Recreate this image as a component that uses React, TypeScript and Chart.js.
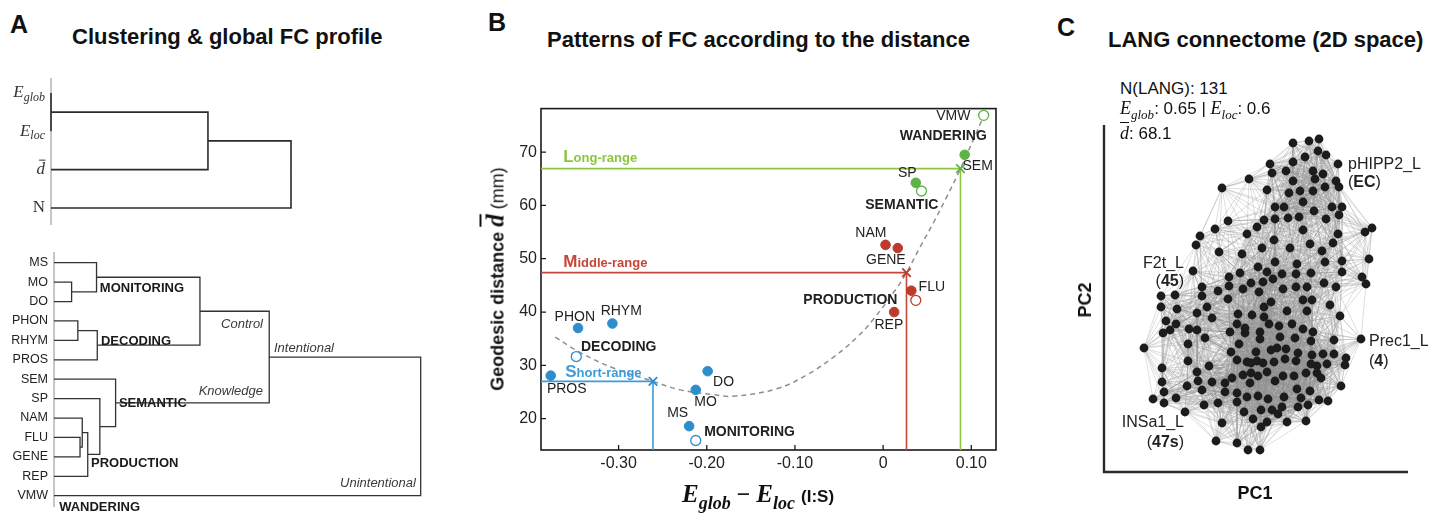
import React, { useEffect, useRef } from "react";
import { Chart, registerables } from "chart.js";
Chart.register(...registerables);

const SANS = 'Arial, "Liberation Sans", Helvetica, sans-serif';
const SERIF = '"Liberation Serif", "DejaVu Serif", serif';

// ---------------- Panel A : global FC profile dendrogram ----------------
const topLeafNames = ["Eglob", "Eloc", "dbar", "N"];
const topLinkY1 = [0, 0.5, 1.25];
const topLinkH1 = [0, 0, 0.654];
const topLinkY2 = [1, 2, 3];
const topLinkH2 = [0, 0, 0];
const topLinkH = [0, 0.654, 1.0];

// ---------------- Panel A : task dendrogram ----------------
const taskNames = ["MS", "MO", "DO", "PHON", "RHYM", "PROS", "SEM", "SP", "NAM", "FLU", "GENE", "REP", "VMW"];
const botLinkY1 = [1, 0, 3, 3.5, 0.75, 9, 8, 8.75, 7, 6, 2.5, 4.859];
const botLinkH1 = [0, 0, 0, 0.065, 0.116, 0, 0, 0.077, 0, 0, 0.398, 0.587];
const botLinkY2 = [2, 1.5, 4, 5, 4.25, 10, 9.5, 11, 9.875, 8.4375, 7.219, 12];
const botLinkH2 = [0, 0.048, 0, 0, 0.118, 0, 0.071, 0, 0.092, 0.125, 0.168, 0];
const botLinkH = [0.048, 0.116, 0.065, 0.118, 0.398, 0.071, 0.077, 0.092, 0.125, 0.168, 0.587, 1.0];
const clusterNames = ["MONITORING", "DECODING", "SEMANTIC", "PRODUCTION", "WANDERING"];
const clusterLabelH = [0.125, 0.128, 0.177, 0.101, 0.014];
const clusterLabelY = [1.35, 4.03, 7.23, 10.32, 12.58];
const branchNames = ["Control", "Intentional", "Knowledge", "Unintentional"];
const branchLabelH = [0.57, 0.6, 0.57, 0.987];
const branchLabelY = [3.16, 4.39, 6.64, 11.35];
const branchAlign = ["right", "left", "right", "right"];

// ---------------- Panel B : FC patterns vs distance ----------------
const taskX = [-0.346, -0.307, -0.377, -0.199, -0.2125, -0.22, 0.0027, 0.0166, 0.032, 0.0125, 0.037, 0.0925];
const taskY = [37.0, 37.85, 28.07, 28.9, 25.4, 18.6, 52.6, 52.0, 44.0, 40.0, 64.25, 69.5];
const taskLabels = ["PHON", "RHYM", "PROS", "DO", "MO", "MS", "NAM", "GENE", "FLU", "REP", "SP", "SEM"];
const taskRange = [0, 0, 0, 0, 0, 0, 1, 1, 1, 1, 2, 2];
const centroidNames = ["DECODING", "MONITORING", "PRODUCTION", "SEMANTIC", "WANDERING"];
const centroidX = [-0.348, -0.2125, 0.037, 0.0435, 0.114];
const centroidY = [31.65, 15.9, 42.2, 62.7, 76.9];
const centroidRange = [0, 0, 1, 2, 2];
const rangeNames = ["Short-range", "Middle-range", "Long-range"];
const rangeX = [-0.261, 0.0265, 0.0877];
const rangeY = [27.0, 47.4, 66.9];
const fitX = [-0.372, -0.3435, -0.306, -0.261, -0.23, -0.1925, -0.17, -0.1207, -0.0867, -0.0566, -0.0301, -0.0113, 0.0152, 0.0265, 0.0416, 0.0566, 0.0718, 0.0877, 0.102, 0.1152];
const fitY = [35.3, 32.4, 29.5, 27.0, 25.4, 24.5, 24.2, 25.6, 28.2, 31.5, 35.2, 38.6, 44.45, 47.4, 52.1, 56.6, 61.5, 66.9, 72.2, 77.2];
const xTickValues = [-0.3, -0.2, -0.1, 0, 0.1];
const xTickLabels = ["-0.30", "-0.20", "-0.10", "0", "0.10"];
const yTickValues = [20, 30, 40, 50, 60, 70];
const yTickLabels = ["20", "30", "40", "50", "60", "70"];
const B_XMIN = -0.388, B_XMAX = 0.128, B_YMIN = 14.12, B_YMAX = 78.16;

// ---------------- Panel C : LANG connectome nodes (PC scores, arbitrary units) ----------------
const pc1 = [
  43, 59, 69, 68, 55, 76, 20, 43, 88, 22,
  36, 63, -1, 43, 65, 73, 86, -28, 17, 39,
  50, 63, 75, 89, 53, 25, 34, 64, 82, 92,
  89, 76, 49, 38, 25, 14, 7, -22, -35, 53,
  -3, 115, 122, -50, 24, 88, -54, 60, 83, 12,
  40, 72, -31, -8, 25, 75, 47, 8, 92, 119,
  -57, -10, -21, 17, 32, 46, 61, 92, 112, 116,
  1, 13, 23, -21, -48, -32, -7, 33, 46, 57,
  74, 86, -89, -75, -48, -22, 9, -89, -73, -53,
  -43, -38, -12, 2, 14, 14, 21, 37, 53, 62,
  57, 80, 90, -84, -74, -87, -80, -61, -53, -45,
  -20, -13, -5, -5, 10, 19, 29, 30, 42, 53,
  45, 63, 61, 10, -11, -62, -106, 84, 111, -19,
  6, 21, 27, 36, 48, 62, 73, 84, 96, -62,
  -13, -3, 1, 7, 13, 24, 35, 46, 61, 67,
  77, 95, -41, -88, -53, -7, 1, 8, 17, 33,
  44, 56, 67, 71, -18, -38, -52, -25, -88, 91,
  -63, 0, 25, 47, 60, -86, -48, -25, -13, -3,
  8, 34, 51, 69, 78, -97, -86, -74, -46, -32,
  -13, 18, 32, 48, 58, -65, -6, 11, 22, 28,
  3, 37, 56, -28, 11, 17, -34, -13, -2, 10,
];
const pc2 = [
  157, 159, 161, 149, 143, 145, 136, 138, 136, 127,
  129, 129, 121, 119, 121, 126, 119, 112, 110, 107,
  109, 109, 113, 113, 98, 93, 93, 89, 93, 93,
  85, 81, 83, 82, 81, 80, 73, 79, 71, 70,
  66, 68, 72, 64, 60, 66, 55, 56, 57, 52,
  52, 49, 48, 46, 38, 38, 36, 33, 39, 41,
  29, 27, 23, 28, 26, 26, 27, 28, 23, 16,
  17, 18, 21, 14, 13, 9, 11, 11, 13, 13,
  17, 13, 4, 5, 4, 1, 8, -7, -9, -13,
  -7, -18, -14, -15, -17, -7, -2, -11, 0, 0,
  -11, -5, -16, -21, -24, -33, -30, -29, -30, -38,
  -32, -24, -28, -33, -32, -24, -26, -37, -24, -29,
  -38, -32, -41, -39, -44, -44, -48, -40, -39, -52,
  -52, -50, -48, -49, -53, -55, -54, -54, -58, -61,
  -60, -62, -63, -61, -63, -62, -59, -61, -64, -66,
  -64, -65, -66, -68, -72, -75, -73, -76, -72, -76,
  -76, -73, -73, -78, -78, -82, -81, -83, -82, -86,
  -86, -83, -81, -89, -91, -92, -90, -92, -93, -97,
  -96, -97, -98, -100, -101, -99, -103, -98, -105, -103,
  -102, -99, -107, -107, -105, -112, -112, -110, -110, -114,
  -119, -122, -121, -123, -127, -122, -141, -143, -150, -150,
];
const C_XMIN = -146, C_XMAX = 158, C_YMIN = -172, C_YMAX = 175;

// ---------------- colours ----------------
const markerColors = ["#2f8dcb", "#bd3a2c", "#5fb344"];
const lineColors = ["#3d9bd8", "#c4473a", "#8cc641"];

// ---------------- helpers ----------------
type Run = { t: string; font: string; color?: string; dy?: number; bar?: boolean };
type TextItem = { x: number; y: number; runs: Run[]; align?: string; dx?: number; dy?: number; color?: string };

function textPlugin(items: TextItem[]) {
  return {
    id: "richText",
    afterDatasetsDraw(chart: any) {
      const ctx = chart.ctx;
      const xs = chart.scales.x;
      const ys = chart.scales.y;
      ctx.save();
      ctx.textBaseline = "middle";
      ctx.textAlign = "left";
      for (const it of items) {
        const px = xs.getPixelForValue(it.x) + (it.dx || 0);
        const py = ys.getPixelForValue(it.y) + (it.dy || 0);
        const widths = it.runs.map((r) => {
          ctx.font = r.font;
          return ctx.measureText(r.t).width;
        });
        const total = widths.reduce((a, b) => a + b, 0);
        let x0 = it.align === "right" ? px - total : it.align === "center" ? px - total / 2 : px;
        it.runs.forEach((r, i) => {
          ctx.font = r.font;
          ctx.fillStyle = r.color || it.color || "#222";
          const yy = py + (r.dy || 0);
          ctx.fillText(r.t, x0, yy);
          if (r.bar) {
            const m = ctx.measureText(r.t);
            const top = yy - (m.actualBoundingBoxAscent || 8) - 2;
            ctx.strokeStyle = ctx.fillStyle;
            ctx.lineWidth = 1;
            ctx.beginPath();
            ctx.moveTo(x0 + widths[i] * 0.3, top);
            ctx.lineTo(x0 + widths[i] * 1.05, top);
            ctx.stroke();
          }
          x0 += widths[i];
        });
      }
      ctx.restore();
    },
  };
}

function axisLinePlugin(color: string, width: number) {
  return {
    id: "axisLine",
    beforeDatasetsDraw(chart: any) {
      const { ctx, chartArea: a } = chart;
      ctx.save();
      ctx.strokeStyle = color;
      ctx.lineWidth = width;
      ctx.beginPath();
      ctx.moveTo(a.left, a.top);
      ctx.lineTo(a.left, a.bottom);
      ctx.stroke();
      ctx.restore();
    },
  };
}

function linkPoints(y1: number[], h1: number[], y2: number[], h2: number[], h: number[]) {
  const pts: any[] = [];
  for (let i = 0; i < h.length; i++) {
    pts.push({ x: h1[i], y: y1[i] }, { x: h[i], y: y1[i] }, { x: h[i], y: y2[i] }, { x: h2[i], y: y2[i] }, { x: h2[i], y: null });
  }
  return pts;
}

function buildEdges(xs: number[], ys: number[], k: number, r: number) {
  const n = xs.length;
  const seen = new Set<number>();
  const pts: any[] = [];
  for (let i = 0; i < n; i++) {
    const d: [number, number][] = [];
    for (let j = 0; j < n; j++) if (j !== i) d.push([Math.hypot(xs[i] - xs[j], ys[i] - ys[j]), j]);
    d.sort((a, b) => a[0] - b[0]);
    d.forEach(([dist, j], rank) => {
      if (rank < k || dist < r) {
        const key = Math.min(i, j) * 1000 + Math.max(i, j);
        if (!seen.has(key)) {
          seen.add(key);
          pts.push({ x: xs[i], y: ys[i] }, { x: xs[j], y: ys[j] }, { x: xs[j], y: null });
        }
      }
    });
  }
  return pts;
}

function baseOptions(pad: any) {
  return {
    animation: false,
    responsive: false,
    maintainAspectRatio: false,
    devicePixelRatio: 1,
    events: [],
    layout: { padding: pad },
    plugins: { legend: { display: false }, tooltip: { enabled: false }, colors: { enabled: false } },
  };
}

function mathRuns(name: string, size: number): Run[] {
  const main = `italic ${size}px ${SERIF}`;
  const sub = `italic ${Math.round(size * 0.72)}px ${SERIF}`;
  if (name === "Eglob") return [{ t: "E", font: main }, { t: "glob", font: sub, dy: size * 0.28 }];
  if (name === "Eloc") return [{ t: "E", font: main }, { t: "loc", font: sub, dy: size * 0.28 }];
  if (name === "dbar") return [{ t: "d", font: main, bar: true }];
  return [{ t: name, font: `${size}px ${SERIF}` }];
}

// ---------------- chart factories ----------------
function makeTop() {
  const items: TextItem[] = topLeafNames.map((n, i) => ({ x: 0, y: i, dx: -6, align: "right", runs: mathRuns(n, 17), color: "#333" }));
  return {
    type: "line",
    data: {
      datasets: [
        { data: linkPoints(topLinkY1, topLinkH1, topLinkY2, topLinkH2, topLinkH), borderColor: "#2b2b2b", backgroundColor: "#2b2b2b", borderWidth: 1.6, pointRadius: 0, tension: 0, clip: false },
      ],
    },
    options: {
      ...baseOptions({ left: 51, right: 9, top: 8, bottom: 10 }),
      scales: {
        x: { type: "linear", display: false, min: 0, max: 1.1667 },
        y: { type: "linear", display: false, min: -0.391, max: 3.443, reverse: true },
      },
    },
    plugins: [axisLinePlugin("#b5b5b5", 1.5), textPlugin(items)],
  };
}

function makeBottom() {
  const items: TextItem[] = [];
  taskNames.forEach((n, i) => items.push({ x: 0, y: i, dx: -6, align: "right", runs: [{ t: n, font: `12.5px ${SANS}` }], color: "#222" }));
  clusterNames.forEach((n, i) => items.push({ x: clusterLabelH[i], y: clusterLabelY[i], align: "left", runs: [{ t: n, font: `bold 13px ${SANS}` }], color: "#1a1a1a" }));
  branchNames.forEach((n, i) => items.push({ x: branchLabelH[i], y: branchLabelY[i], align: branchAlign[i], runs: [{ t: n, font: `italic 13px ${SANS}` }], color: "#3a3a3a" }));
  return {
    type: "line",
    data: {
      datasets: [
        { data: linkPoints(botLinkY1, botLinkH1, botLinkY2, botLinkH2, botLinkH), borderColor: "#333", backgroundColor: "#333", borderWidth: 1.3, pointRadius: 0, tension: 0, clip: false },
      ],
    },
    options: {
      ...baseOptions({ left: 54, right: 10, top: 7, bottom: 6 }),
      scales: {
        x: { type: "linear", display: false, min: 0, max: 1.0254 },
        y: { type: "linear", display: false, min: -0.551, max: 12.582, reverse: true },
      },
    },
    plugins: [axisLinePlugin("#b5b5b5", 1.5), textPlugin(items)],
  };
}

function frameBPlugin() {
  return {
    id: "frameB",
    beforeDatasetsDraw(chart: any) {
      const { ctx, chartArea: a, scales } = chart;
      ctx.save();
      ctx.strokeStyle = "#1a1a1a";
      ctx.lineWidth = 1.6;
      ctx.strokeRect(a.left, a.top, a.right - a.left, a.bottom - a.top);
      ctx.lineWidth = 1.3;
      ctx.beginPath();
      for (const t of scales.x.ticks) {
        const px = scales.x.getPixelForValue(t.value);
        ctx.moveTo(px, a.bottom);
        ctx.lineTo(px, a.bottom - 5);
      }
      for (const t of scales.y.ticks) {
        const py = scales.y.getPixelForValue(t.value);
        ctx.moveTo(a.left, py);
        ctx.lineTo(a.left + 5, py);
      }
      ctx.stroke();
      ctx.restore();
    },
  };
}

function makeB() {
  const f = `14px ${SANS}`;
  const fb = `bold 14px ${SANS}`;
  const items: TextItem[] = [
    { x: -0.3497, y: 39.0, align: "center", runs: [{ t: "PHON", font: f }] },
    { x: -0.297, y: 40.1, align: "center", runs: [{ t: "RHYM", font: f }] },
    { x: -0.2999, y: 33.5, align: "center", runs: [{ t: "DECODING", font: fb }] },
    { x: -0.3588, y: 25.5, align: "center", runs: [{ t: "PROS", font: f }] },
    { x: -0.181, y: 26.8, align: "center", runs: [{ t: "DO", font: f }] },
    { x: -0.2014, y: 23.1, align: "center", runs: [{ t: "MO", font: f }] },
    { x: -0.233, y: 21.0, align: "center", runs: [{ t: "MS", font: f }] },
    { x: -0.1515, y: 17.55, align: "center", runs: [{ t: "MONITORING", font: fb }] },
    { x: 0.0795, y: 76.7, align: "center", runs: [{ t: "VMW", font: f }] },
    { x: 0.0682, y: 73.0, align: "center", runs: [{ t: "WANDERING", font: fb }] },
    { x: 0.1072, y: 67.4, align: "center", runs: [{ t: "SEM", font: f }] },
    { x: 0.0274, y: 66.1, align: "center", runs: [{ t: "SP", font: f }] },
    { x: 0.0212, y: 60.0, align: "center", runs: [{ t: "SEMANTIC", font: fb }] },
    { x: -0.0139, y: 54.8, align: "center", runs: [{ t: "NAM", font: f }] },
    { x: 0.0031, y: 49.8, align: "center", runs: [{ t: "GENE", font: f }] },
    { x: 0.0552, y: 44.6, align: "center", runs: [{ t: "FLU", font: f }] },
    { x: -0.0371, y: 42.3, align: "center", runs: [{ t: "PRODUCTION", font: fb }] },
    { x: 0.0065, y: 37.5, align: "center", runs: [{ t: "REP", font: f }] },
  ];
  const rangeLabelY = [28.7, 49.4, 69.1];
  const rangeLabelX = [-0.3605, -0.3628, -0.3628];
  rangeNames.forEach((n, i) => {
    items.push({
      x: rangeLabelX[i],
      y: rangeLabelY[i],
      align: "left",
      color: lineColors[i],
      runs: [
        { t: n.charAt(0), font: `bold 17px ${SANS}` },
        { t: n.slice(1), font: `bold 13px ${SANS}`, dy: 1.3 },
      ],
    });
  });

  const rangeLines = rangeX.map((rx, i) => ({
    data: [
      { x: B_XMIN, y: rangeY[i] },
      { x: rx, y: rangeY[i] },
      { x: rx, y: B_YMIN },
    ],
    borderColor: lineColors[i],
    backgroundColor: lineColors[i],
    borderWidth: 1.6,
    pointRadius: 0,
    tension: 0,
  }));

  return {
    type: "line",
    data: {
      datasets: [
        {
          data: rangeX.map((x, i) => ({ x, y: rangeY[i] })),
          showLine: false,
          pointStyle: "crossRot",
          pointRadius: 6,
          pointBorderWidth: 1.8,
          pointBorderColor: markerColors,
          pointBackgroundColor: markerColors,
          borderColor: "#000",
          backgroundColor: "#000",
        },
        {
          data: taskX.map((x, i) => ({ x, y: taskY[i] })),
          showLine: false,
          pointRadius: 4.8,
          pointBorderWidth: 1,
          pointBackgroundColor: taskRange.map((g) => markerColors[g]),
          pointBorderColor: taskRange.map((g) => markerColors[g]),
          borderColor: "#000",
          backgroundColor: "#000",
        },
        {
          data: centroidX.map((x, i) => ({ x, y: centroidY[i] })),
          showLine: false,
          pointRadius: 5,
          pointBorderWidth: 1.3,
          pointBackgroundColor: "#ffffff",
          pointBorderColor: centroidRange.map((g) => markerColors[g]),
          borderColor: "#000",
          backgroundColor: "#000",
        },
        {
          data: fitX.map((x, i) => ({ x, y: fitY[i] })),
          borderColor: "#8f8f8f",
          backgroundColor: "#8f8f8f",
          borderDash: [5, 4],
          borderWidth: 1.5,
          pointRadius: 0,
          tension: 0.4,
        },
        ...rangeLines,
      ],
    },
    options: {
      ...baseOptions({ left: 0, right: 14, top: 10, bottom: 0 }),
      scales: {
        x: {
          type: "linear",
          min: B_XMIN,
          max: B_XMAX,
          afterFit: (s: any) => {
            s.height = 63;
          },
          afterBuildTicks: (s: any) => {
            s.ticks = xTickValues.map((v) => ({ value: v }));
          },
          grid: { display: false, drawTicks: false },
          border: { display: false },
          ticks: { padding: 4, autoSkip: false, maxRotation: 0, color: "#222", font: { size: 16, family: SANS }, callback: (_v: any, i: number) => xTickLabels[i] },
        },
        y: {
          type: "linear",
          min: B_YMIN,
          max: B_YMAX,
          afterFit: (s: any) => {
            s.width = 61;
          },
          afterBuildTicks: (s: any) => {
            s.ticks = yTickValues.map((v) => ({ value: v }));
          },
          grid: { display: false, drawTicks: false },
          border: { display: false },
          ticks: { padding: 4, autoSkip: false, color: "#222", font: { size: 16, family: SANS }, callback: (_v: any, i: number) => yTickLabels[i] },
        },
      },
    },
    plugins: [frameBPlugin(), textPlugin(items)],
  };
}

function axesCPlugin() {
  return {
    id: "axesC",
    afterDatasetsDraw(chart: any) {
      const { ctx, chartArea: a } = chart;
      ctx.save();
      ctx.strokeStyle = "#2a2a2a";
      ctx.lineWidth = 2.4;
      ctx.beginPath();
      ctx.moveTo(a.left, a.top);
      ctx.lineTo(a.left, a.bottom);
      ctx.lineTo(a.right, a.bottom);
      ctx.stroke();
      ctx.restore();
    },
  };
}

function makeC() {
  const f = `16px ${SANS}`;
  const fb = `bold 16px ${SANS}`;
  const items: TextItem[] = [
    { x: 98, y: 135, align: "left", runs: [{ t: "pHIPP2_L", font: f }] },
    { x: 98, y: 117, align: "left", runs: [{ t: "(", font: f }, { t: "EC", font: fb }, { t: ")", font: f }] },
    { x: -66, y: 36, align: "right", runs: [{ t: "F2t_L", font: f }] },
    { x: -66, y: 18, align: "right", runs: [{ t: "(", font: f }, { t: "45", font: fb }, { t: ")", font: f }] },
    { x: 119, y: -42, align: "left", runs: [{ t: "Prec1_L", font: f }] },
    { x: 119, y: -62, align: "left", runs: [{ t: "(", font: f }, { t: "4", font: fb }, { t: ")", font: f }] },
    { x: -66, y: -123, align: "right", runs: [{ t: "INSa1_L", font: f }] },
    { x: -66, y: -143, align: "right", runs: [{ t: "(", font: f }, { t: "47s", font: fb }, { t: ")", font: f }] },
  ];
  return {
    type: "line",
    data: {
      datasets: [
        {
          data: pc1.map((x, i) => ({ x, y: pc2[i] })),
          showLine: false,
          pointRadius: 4.4,
          pointBorderWidth: 0,
          pointBackgroundColor: "#1c1c1c",
          borderColor: "#1c1c1c",
          backgroundColor: "#1c1c1c",
        },
        {
          data: buildEdges(pc1, pc2, 16, 62),
          borderColor: "rgba(140,140,140,0.42)",
          backgroundColor: "rgba(140,140,140,0.42)",
          borderWidth: 0.7,
          pointRadius: 0,
          tension: 0,
        },
      ],
    },
    options: {
      ...baseOptions({ left: 14, right: 44, top: 10, bottom: 23 }),
      scales: {
        x: { type: "linear", display: false, min: C_XMIN, max: C_XMAX },
        y: { type: "linear", display: false, min: C_YMIN, max: C_YMAX },
      },
    },
    plugins: [axesCPlugin(), textPlugin(items)],
  };
}

// ---------------- React ----------------
function ChartBox({ left, top, width, height, make }: { left: number; top: number; width: number; height: number; make: () => any }) {
  const ref = useRef<HTMLCanvasElement>(null);
  useEffect(() => {
    const chart = new Chart(ref.current as HTMLCanvasElement, make());
    return () => chart.destroy();
  }, []);
  return (
    <div style={{ position: "absolute", left, top, width, height }}>
      <canvas ref={ref} width={width} height={height} style={{ width, height, display: "block" }} />
    </div>
  );
}

const abs = (left: number, top: number, extra: any = {}) => ({ position: "absolute" as const, left, top, whiteSpace: "nowrap" as const, lineHeight: 1, ...extra });

function MathE({ sub, size, bold }: { sub: string; size: number; bold?: boolean }) {
  return (
    <span style={{ fontFamily: SERIF, fontStyle: "italic", fontWeight: bold ? "bold" : "normal", fontSize: size }}>
      E<span style={{ fontSize: Math.round(size * 0.72), position: "relative", top: size * 0.28 }}>{sub}</span>
    </span>
  );
}

export default function App() {
  return (
    <div style={{ position: "fixed", left: 0, top: 0, width: 1452, height: 513, background: "#fff", fontFamily: SANS, color: "#111", overflow: "hidden" }}>
      <ChartBox left={0} top={70} width={340} height={165} make={makeTop} />
      <ChartBox left={0} top={245} width={440} height={268} make={makeBottom} />
      <ChartBox left={480} top={95} width={530} height={418} make={makeB} />
      <ChartBox left={1090} top={115} width={362} height={380} make={makeC} />

      <div style={abs(10, 12, { fontSize: 25, fontWeight: "bold" })}>A</div>
      <div style={abs(72, 25.5, { fontSize: 22, fontWeight: "bold" })}>Clustering &amp; global FC profile</div>
      <div style={abs(488, 10, { fontSize: 25, fontWeight: "bold" })}>B</div>
      <div style={abs(547, 28.5, { fontSize: 22, fontWeight: "bold" })}>Patterns of FC according to the distance</div>
      <div style={abs(1057, 15, { fontSize: 25, fontWeight: "bold" })}>C</div>
      <div style={abs(1108, 28.5, { fontSize: 22, fontWeight: "bold" })}>LANG connectome (2D space)</div>

      {/* Panel B axis titles */}
      <div style={abs(758, 493, { transform: "translate(-50%,-50%)", fontWeight: "bold" })}>
        <MathE sub="glob" size={25} bold />
        <span style={{ fontFamily: SERIF, fontSize: 24, fontWeight: "bold", margin: "0 6px" }}>−</span>
        <MathE sub="loc" size={25} bold />
        <span style={{ fontSize: 17, marginLeft: 6 }}>(I:S)</span>
      </div>
      <div style={abs(495, 279, { transform: "translate(-50%,-50%) rotate(-90deg)", fontSize: 18, fontWeight: "bold" })}>
        Geodesic distance{" "}
        <span style={{ fontFamily: SERIF, fontStyle: "italic", fontSize: 25, textDecoration: "overline" }}>d</span>{" "}
        <span style={{ fontWeight: "normal" }}>(mm)</span>
      </div>

      {/* Panel C header & axis titles */}
      <div style={abs(1120, 79.5, { fontSize: 17 })}>N(LANG): 131</div>
      <div style={abs(1120, 99, { fontSize: 17 })}>
        <MathE sub="glob" size={18} />: 0.65 | <MathE sub="loc" size={18} />: 0.6
      </div>
      <div style={abs(1120, 124, { fontSize: 17 })}>
        <span style={{ fontFamily: SERIF, fontStyle: "italic", fontSize: 18, textDecoration: "overline" }}>d</span>: 68.1
      </div>
      <div style={abs(1085, 300, { transform: "translate(-50%,-50%) rotate(-90deg)", fontSize: 18, fontWeight: "bold" })}>PC2</div>
      <div style={abs(1255, 493, { transform: "translate(-50%,-50%)", fontSize: 18, fontWeight: "bold" })}>PC1</div>
    </div>
  );
}
